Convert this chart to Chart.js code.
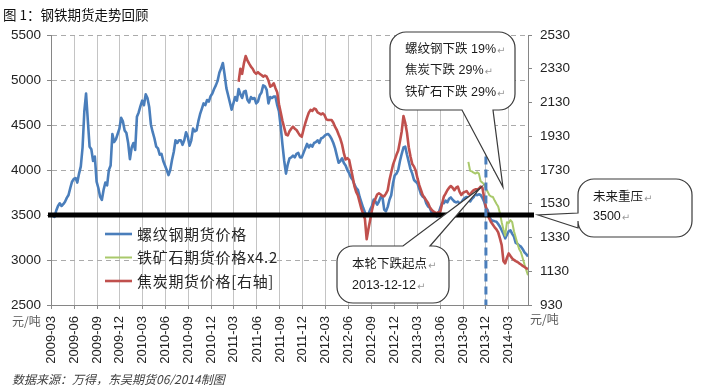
<!DOCTYPE html>
<html>
<head>
<meta charset="utf-8">
<script src="https://cdn.jsdelivr.net/npm/chart.js@4.4.1/dist/chart.umd.min.js"></script>
<style>
  html, body { margin: 0; padding: 0; background: #fff; }
</style>
</head>
<body>
<canvas id="myChart" width="707" height="385"></canvas>
<script>
const axisStart = '2009-03-27';
const axisEnd = '2014-06-13';
const tickLabels = ['2009-03', '2009-06', '2009-09', '2009-12', '2010-03', '2010-06', '2010-09', '2010-12',
    '2011-03', '2011-06', '2011-09', '2011-12', '2012-03', '2012-06', '2012-09', '2012-12',
    '2013-03', '2013-06', '2013-09', '2013-12', '2014-03'];
const leftTicks = [2500, 3000, 3500, 4000, 4500, 5000, 5500];
const rightTicks = [930, 1130, 1330, 1530, 1730, 1930, 2130, 2330, 2530];

const seriesLabels = ['螺纹钢期货价格', '铁矿石期货价格x4.2', '焦炭期货价格[右轴]'];

// weekly closes
const rebarStart = '2009-03-27';
const rebar = [
    3500, 3490, 3480, 3550, 3600, 3630, 3600, 3620, 3648, 3690,
    3722, 3800, 3870, 3900, 3911, 3860, 3960, 4040, 4250, 4650,
    4850, 4550, 4259, 4230, 4100, 4150, 3870, 3800, 3704, 3667,
    3780, 3860, 3830, 4000, 4050, 4400, 4310, 4340, 4400, 4460,
    4580, 4540, 4440, 4411, 4300, 4120, 4250, 4300, 4222, 4593,
    4640, 4710, 4770, 4720, 4840, 4800, 4700, 4500, 4420, 4350,
    4260, 4240, 4170, 4180, 4100, 4050, 4000, 3944, 4000, 4111,
    4200, 4330, 4300, 4330, 4330, 4280, 4330, 4420, 4370, 4270,
    4330, 4460, 4430, 4440, 4540, 4620, 4680, 4740, 4720, 4778,
    4760, 4820, 4850, 4900, 4940, 4990, 5080, 5130, 5189, 5060,
    4910, 4830, 4750, 4670, 4740, 4810, 4770, 4900, 4840, 4800,
    4870, 4880, 4780, 4750, 4810, 4790, 4800, 4740, 4760, 4830,
    4860, 4940, 4930, 4890, 4740, 4810, 4800, 4815, 4815, 4720,
    4650, 4480, 4280, 4100, 3960, 4060, 4130, 4140, 4160, 4140,
    4180, 4190, 4140, 4140, 4190, 4240, 4290, 4250, 4280, 4259,
    4300, 4310, 4330, 4300, 4350, 4360, 4380, 4395, 4400, 4380,
    4345, 4300, 4240, 4160, 4080, 4100, 4130, 4078, 4050, 4000,
    3965, 3920, 3890, 3840, 3800, 3780, 3700, 3640, 3580, 3530,
    3490, 3510, 3560, 3600, 3670, 3650, 3615, 3650, 3700, 3700,
    3560, 3540, 3590, 3670, 3720, 3850, 3940, 3960, 4000, 4100,
    4180, 4250, 4259, 4170, 4090, 4010, 3960, 3889, 3870, 3850,
    3790, 3730, 3704, 3690, 3630, 3595, 3580, 3530, 3505, 3495,
    3485, 3520, 3580, 3630, 3630, 3660, 3640, 3680, 3695, 3670,
    3650, 3640, 3648, 3630, 3640, 3670, 3690, 3700, 3690, 3650,
    3680, 3700, 3735, 3720, 3730, 3722, 3690, 3648, 3580, 3556,
    3480, 3444, 3435, 3430, 3426, 3400, 3370, 3330, 3290, 3240,
    3280, 3320, 3330, 3290, 3260, 3190, 3180, 3160, 3148, 3120,
    3085, 3065, 3040
];
const cokeStart = '2011-04-15';
const coke = [
    2253, 2330, 2300, 2362, 2405, 2380, 2360, 2342, 2330, 2310,
    2300, 2310, 2300, 2293, 2283, 2290, 2283, 2260, 2224, 2230,
    2244, 2215, 2190, 2120, 2070, 2020, 1980, 1940, 1935, 1960,
    1975, 1987, 1975, 1967, 1950, 1935, 1927, 1970, 2007, 2040,
    2070, 2086, 2080, 2094, 2090, 2072, 2066, 2060, 2066, 2055,
    2030, 2026, 2026, 2026, 2010, 1985, 1967, 1940, 1915, 1880,
    1830, 1792, 1800, 1790, 1740, 1690, 1635, 1600, 1580, 1540,
    1500, 1470, 1440, 1320, 1380, 1434, 1490, 1535, 1560, 1585,
    1592, 1585, 1575, 1575, 1590, 1610, 1670, 1715, 1760, 1790,
    1820, 1845, 1900, 1960, 2050, 2010, 1950, 1865, 1810, 1765,
    1750, 1725, 1680, 1640, 1610, 1580, 1565, 1550, 1535, 1510,
    1495, 1485, 1478, 1473, 1480, 1483, 1530, 1572, 1590, 1610,
    1625, 1635, 1625, 1610, 1625, 1631, 1600, 1582, 1595, 1600,
    1605, 1590, 1582, 1600, 1610, 1615, 1615, 1620, 1631, 1625,
    1565, 1510, 1465, 1440, 1420, 1405, 1390, 1378, 1360, 1325,
    1285, 1190, 1177, 1210, 1236, 1220, 1205, 1197, 1190, 1185,
    1177, 1170, 1162, 1155, 1148, 1142
];
const oreStart = '2013-10-18';
const ore = [
    4090, 3990, 3985, 3970, 3960, 3975, 3960, 3875, 3860, 3840,
    3790, 3760, 3720, 3705, 3700, 3660, 3625, 3595, 3520, 3420,
    3340, 3270, 3420, 3410, 3444, 3420, 3320, 3250, 3180, 3120,
    3085, 3020, 2950, 2890, 2830
];

const pressureLevel = 3500;
const dropTick = '2013-12';

const BLUE = '#4A7EBB';
const RED = '#C0504D';
const GREEN = '#A9C96B';
const SANS = '"Liberation Sans", "Noto Sans CJK SC", sans-serif';
const CJK = '"Noto Sans CJK SC", sans-serif';

function dayOf(s) {
    const [y, m, d] = s.split('-').map(Number);
    const [y0, m0, d0] = axisStart.split('-').map(Number);
    return (Date.UTC(y, m - 1, d) - Date.UTC(y0, m0 - 1, d0)) / 86400000;
}
const tickDays = tickLabels.map(t => dayOf(t + '-27'));

function toPoints(start, values) {
    const d0 = dayOf(start);
    return values.map((v, i) => ({ x: d0 + 7 * i, y: v }));
}

function textWithMark(ctx, str, x, y) {
    ctx.fillStyle = '#1a1a1a';
    ctx.fillText(str, x, y);
    const w = ctx.measureText(str).width;
    ctx.save();
    ctx.font = '10px "DejaVu Sans"';
    ctx.fillStyle = '#9a9a9a';
    ctx.fillText('\u21B5', x + w + 1, y + 1);
    ctx.restore();
}

function callout(ctx, b, side, w1, w2, tip) {
    const { x, y, w, h, r } = b;
    ctx.beginPath();
    ctx.moveTo(x + r, y);
    if (side === 'top') { ctx.lineTo(w1, y); ctx.lineTo(tip.x, tip.y); ctx.lineTo(w2, y); }
    ctx.lineTo(x + w - r, y);
    ctx.arcTo(x + w, y, x + w, y + r, r);
    ctx.lineTo(x + w, y + h - r);
    ctx.arcTo(x + w, y + h, x + w - r, y + h, r);
    if (side === 'bottom') { ctx.lineTo(w2, y + h); ctx.lineTo(tip.x, tip.y); ctx.lineTo(w1, y + h); }
    ctx.lineTo(x + r, y + h);
    ctx.arcTo(x, y + h, x, y + h - r, r);
    if (side === 'left') { ctx.lineTo(x, w2); ctx.lineTo(tip.x, tip.y); ctx.lineTo(x, w1); }
    ctx.lineTo(x, y + r);
    ctx.arcTo(x, y, x + r, y, r);
    ctx.closePath();
    ctx.fillStyle = '#fff';
    ctx.fill();
    ctx.lineWidth = 1.2;
    ctx.strokeStyle = '#3a3a3a';
    ctx.stroke();
}

const decorations = {
    id: 'decorations',
    afterDatasetsDraw(chart) {
        const { ctx, chartArea, scales } = chart;
        const xs = scales.x, yl = scales.y, yr = scales.yRight;
        ctx.save();

        // pressure line at 3500
        const py = yl.getPixelForValue(pressureLevel);
        ctx.beginPath();
        ctx.moveTo(chartArea.left - 3, py);
        ctx.lineTo(chartArea.right + 6, py);
        ctx.lineWidth = 5;
        ctx.strokeStyle = '#000';
        ctx.stroke();

        // dashed start-of-drop marker
        const dx = xs.getPixelForValue(tickDays[tickLabels.indexOf(dropTick)]);
        ctx.beginPath();
        ctx.moveTo(dx, yl.getPixelForValue(4150));
        ctx.lineTo(dx, chartArea.bottom);
        ctx.setLineDash([8, 5]);
        ctx.lineWidth = 3;
        ctx.strokeStyle = BLUE;
        ctx.stroke();
        ctx.setLineDash([]);

        // callouts
        ctx.font = '12.5px ' + SANS;
        ctx.textBaseline = 'middle';
        ctx.textAlign = 'left';

        callout(ctx, { x: 390, y: 32, w: 125, h: 78, r: 16 }, 'bottom', 462, 493,
            { x: xs.getPixelForValue(dayOf('2014-03-05')), y: yl.getPixelForValue(3810) });
        textWithMark(ctx, '螺纹钢下跌 19%', 405, 50);
        textWithMark(ctx, '焦炭下跌 29%', 405, 71);
        textWithMark(ctx, '铁矿石下跌 29%', 405, 93);

        callout(ctx, { x: 337, y: 246, w: 112, h: 57, r: 16 }, 'top', 403, 430,
            { x: xs.getPixelForValue(dayOf('2013-12-06')), y: yr.getPixelForValue(1625) });
        textWithMark(ctx, '本轮下跌起点', 352, 265);
        textWithMark(ctx, '2013-12-12', 352, 286);

        callout(ctx, { x: 578, y: 179, w: 114, h: 58, r: 16 }, 'left', 213, 228,
            { x: chartArea.right + 10, y: py });
        textWithMark(ctx, '未来重压', 593, 198);
        textWithMark(ctx, String(pressureLevel), 593, 217);

        // legend inside the plot
        const items = [
            { label: seriesLabels[0], color: BLUE, w: 2.6 },
            { label: seriesLabels[1], color: GREEN, w: 2 },
            { label: seriesLabels[2], color: RED, w: 2.6 }
        ];
        ctx.font = '15px ' + CJK;
        ctx.letterSpacing = '0.7px';
        items.forEach((it, i) => {
            const y = 234 + i * 23.5;
            ctx.beginPath();
            ctx.moveTo(105, y);
            ctx.lineTo(132, y);
            ctx.lineWidth = it.w;
            ctx.strokeStyle = it.color;
            ctx.stroke();
            ctx.fillStyle = '#262626';
            ctx.fillText(it.label, 137, y);
        });
        ctx.letterSpacing = '0px';

        // title, units, source
        ctx.fillStyle = '#111';
        ctx.font = '13.5px ' + CJK;
        ctx.fillText('图 1：钢铁期货走势回顾', 3, 15);
        ctx.fillStyle = '#595959';
        ctx.font = '12px ' + CJK;
        ctx.fillText('元/吨', 12, 321);
        ctx.fillText('元/吨', 530, 319);
        ctx.fillStyle = '#404040';
        ctx.font = 'italic 12px ' + CJK;
        ctx.fillText('数据来源：万得，东吴期货06/2014制图', 12, 379);
        ctx.restore();
    }
};

const tickFont = { family: SANS, size: 13.5 };
const plain = v => String(v);

const config = {
    type: 'line',
    data: {
        datasets: [
            { label: seriesLabels[2], data: toPoints(cokeStart, coke), yAxisID: 'yRight', borderColor: RED, borderWidth: 2.6, order: 0 },
            { label: seriesLabels[1], data: toPoints(oreStart, ore), yAxisID: 'y', borderColor: GREEN, borderWidth: 2, order: 1 },
            { label: seriesLabels[0], data: toPoints(rebarStart, rebar), yAxisID: 'y', borderColor: BLUE, borderWidth: 2.6, order: 2 }
        ]
    },
    options: {
        responsive: false,
        animation: false,
        elements: { point: { radius: 0 }, line: { tension: 0, borderJoinStyle: 'round' } },
        layout: { padding: { top: 35 } },
        plugins: { legend: { display: false }, tooltip: { enabled: false } },
        scales: {
            x: {
                type: 'linear',
                min: 0,
                max: dayOf(axisEnd),
                afterBuildTicks: s => { s.ticks = tickDays.map(v => ({ value: v })); },
                afterFit: s => { s.height = 80; },
                ticks: {
                    autoSkip: false, minRotation: 90, maxRotation: 90, padding: 7,
                    color: '#222', font: { family: SANS, size: 13 },
                    callback: (v, i) => tickLabels[i]
                },
                grid: { color: '#C4C4C4', tickLength: 4, tickColor: '#8C8C8C' },
                border: { color: '#868686' }
            },
            y: {
                position: 'left',
                min: 2500,
                max: 5500,
                afterBuildTicks: s => { s.ticks = leftTicks.map(v => ({ value: v })); },
                afterFit: s => { s.width = 51; },
                ticks: { color: '#222', font: tickFont, padding: 6, callback: plain },
                grid: { color: '#ABABAB', tickLength: 4, tickColor: '#868686' },
                border: { color: '#868686', dash: [5, 4] }
            },
            yRight: {
                position: 'right',
                min: 930,
                max: 2530,
                afterBuildTicks: s => { s.ticks = rightTicks.map(v => ({ value: v })); },
                afterFit: s => { s.width = 179; },
                ticks: { color: '#222', font: tickFont, padding: 8, callback: plain },
                grid: { drawOnChartArea: false, tickLength: 4, tickColor: '#868686' },
                border: { color: '#868686' }
            }
        }
    },
    plugins: [decorations]
};

const myChart = new Chart(document.getElementById('myChart'), config);
</script>
</body>
</html>
